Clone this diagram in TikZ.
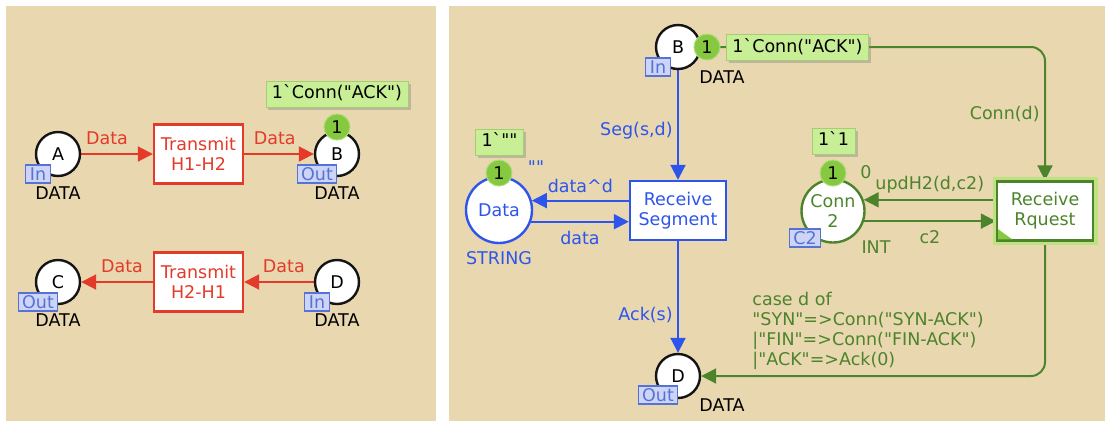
\documentclass[tikz,border=0pt]{standalone}
\usepackage{fontspec}
\newfontfamily\cpnfont{DejaVu Sans}
\usetikzlibrary{positioning,arrows.meta,calc,backgrounds,shadows}
\definecolor{tan0}{RGB}{233,215,176}
\definecolor{ink}{RGB}{20,20,20}
\definecolor{redarc}{RGB}{228,58,42}
\definecolor{bluearc}{RGB}{45,85,235}
\definecolor{greenarc}{RGB}{76,132,44}
\definecolor{tokgreen}{RGB}{135,200,65}
\definecolor{tokring}{RGB}{170,220,120}
\definecolor{markfill}{RGB}{200,238,150}
\definecolor{markline}{RGB}{165,205,120}
\definecolor{tagblue}{RGB}{85,115,215}
\definecolor{tagfill}{RGB}{205,212,245}
\definecolor{glow}{RGB}{190,225,130}

\begin{document}
\begin{tikzpicture}[
  x=1pt,y=-1pt,
  font=\cpnfont\fontsize{17.5}{20}\selectfont,
  >={Triangle[length=15pt,width=15pt]},
  plc/.style={circle,draw=ink,line width=2.4pt,fill=white,minimum size=44pt,inner sep=0pt,align=center},
  trn/.style={draw,line width=2.4pt,fill=white,align=center,minimum width=89pt,minimum height=59pt,inner sep=2pt},
  tok/.style={circle,fill=tokgreen,draw=tokring,line width=1pt,minimum size=26pt,inner sep=0pt},
  mrk/.style={fill=markfill,draw=markline,line width=0.8pt,inner xsep=6pt,inner ysep=0pt,minimum height=26pt,
    text height=13pt,text depth=3.5pt,drop shadow={shadow xshift=2.5pt,shadow yshift=-2.5pt,opacity=0.4}},
  tag/.style={fill=tagfill,draw=tagblue,line width=1.2pt,text=tagblue,inner xsep=4pt,inner ysep=0pt,
    minimum height=18pt,text height=13pt,text depth=0pt},
  rarc/.style={->,color=redarc,line width=2pt},
  barc/.style={->,color=bluearc,line width=2pt},
  garc/.style={->,color=greenarc,line width=2pt,rounded corners=14pt},
]
\useasboundingbox (0,0) rectangle (1105,421);
% the two pages
\begin{scope}[on background layer]
  \fill[tan0] (6,6) rectangle (436,421);
  \fill[tan0] (449,6) rectangle (1105,421);
\end{scope}

% left page: transmit transitions
\node[plc] (A) at (58,154) {A};
\node[trn,draw=redarc,text=redarc] (T12) at (198.5,154) {Transmit\\H1-H2};
\node[plc] (B1) at (337,154) {B};
\node[plc] (C) at (58,282) {C};
\node[trn,draw=redarc,text=redarc] (T21) at (198.5,282) {Transmit\\H2-H1};
\node[plc] (D1) at (337,282) {D};
% port tags and colour sets
\node[tag] (tA) at ($(A)+(-20,20)$) {In};
\node[tag] (tB1) at ($(B1)+(-20,20)$) {Out};
\node[tag] (tC) at ($(C)+(-20,20)$) {Out};
\node[tag] (tD1) at ($(D1)+(-20,20)$) {In};
\node (yA) at ($(A)+(0,39)$) {DATA};
\node (yB1) at ($(B1)+(0,39)$) {DATA};
\node (yC) at ($(C)+(0,38)$) {DATA};
\node (yD1) at ($(D1)+(0,38)$) {DATA};
% marking of B
\node[mrk] (mB1) at ($(B1)+(0,-60)$) {1`Conn("ACK")};
\node[tok] (kB1) at ($(B1)+(0,-27)$) {1};

% right page: receiver
\node[plc] (B2) at (678,47) {B};
\node[tag] (tB2) at ($(B2)+(-20,20)$) {In};
\node (yB2) at ($(B2)+(44,30)$) {DATA};
\node[tok] (kB2) at ($(B2)+(29,0)$) {1};
\node[mrk,anchor=west] (mB2) at (726,47.5) {1`Conn("ACK")};

\node[plc,draw=bluearc,text=bluearc,minimum size=66pt] (Dat) at (499,210) {Data};
\node[text=bluearc] (yDat) at ($(Dat)+(0,48)$) {STRING};
\node[mrk] (mDat) at ($(Dat)+(0.5,-68)$) {1`""};
\node[tok] (kDat) at ($(Dat)+(0,-37)$) {1};
\node[text=bluearc] (vDat) at ($(Dat)+(37,-43)$) {""};
\node[trn,draw=bluearc,text=bluearc,minimum width=96pt] (RS) at (678,210.5) {Receive\\Segment};

\node[plc] (D2) at (678,376) {D};
\node[tag] (tD2) at ($(D2)+(-20,19)$) {Out};
\node (yD2) at ($(D2)+(44,29)$) {DATA};

\node[plc,draw=greenarc,text=greenarc,minimum size=63pt] (C2) at (833,211) {Conn\\2};
\node[tag] (tC2) at ($(C2)+(-28,27)$) {C2};
\node[text=greenarc] (yC2) at ($(C2)+(43,36)$) {INT};
\node[mrk] (mC2) at ($(C2)+(0.5,-70)$) {1`1};
\node[tok] (kC2) at ($(C2)+(0,-38)$) {1};
\node[text=greenarc] (vC2) at ($(C2)+(33,-39)$) {0};
\node[trn,draw=greenarc,text=greenarc,minimum width=96pt,preaction={draw=glow,line width=9pt}] (RR) at (1045,211) {Receive\\Rquest};
\fill[tokgreen] ([shift={(2.4pt,2.4pt)}]RR.south west) -- ++(0,-10) -- ++(14,10) -- cycle;

% arcs
\begin{scope}[on background layer]
  \draw[rarc] (A) -- (T12) node[pos=0.36,above=5pt] (lA) {Data};
  \draw[rarc] (T12) -- (B1) node[pos=0.44,above=5pt] (lB1) {Data};
  \draw[rarc] (D1) -- (T21) node[pos=0.43,above=5pt] (lD1) {Data};
  \draw[rarc] (T21) -- (C) node[pos=0.43,above=5pt] (lC) {Data};

  \draw[barc] (B2) -- (RS) node[pos=0.55,left=1pt] (lSeg) {Seg(s,d)};
  \draw[barc] (RS) -- (D2) node[pos=0.66,left=1pt] (lAck) {Ack(s)};
  \draw[barc] (Dat.16 -| RS.west) -- (Dat.16) node[midway,above=3pt] (lDd) {data\textasciicircum d};
  \draw[barc] (Dat.-20) -- (Dat.-20 -| RS.west) node[midway,below=5pt] (lDa) {data};

  \draw[garc] (C2.20 -| RR.west) -- (C2.20) node[midway,above=2pt] (lUpd) {updH2(d,c2)};
  \draw[garc] (C2.-18) -- (C2.-18 -| RR.west) node[midway,below=5pt] (lc2) {c2};
  \draw[garc] (B2.east) -- (B2.east -| RR.north) -- (RR.north) node[midway,left=1pt] (lConn) {Conn(d)};
  \draw[garc] (RR.south) -- (RR.south |- D2.east) -- (D2.east)
    node[midway,above=2pt,xshift=-5pt,align=left] (lCase) {case d of\\"SYN"=>Conn("SYN-ACK")\\|"FIN"=>Conn("FIN-ACK")\\|"ACK"=>Ack(0)};
\end{scope}
\end{tikzpicture}
\end{document}
